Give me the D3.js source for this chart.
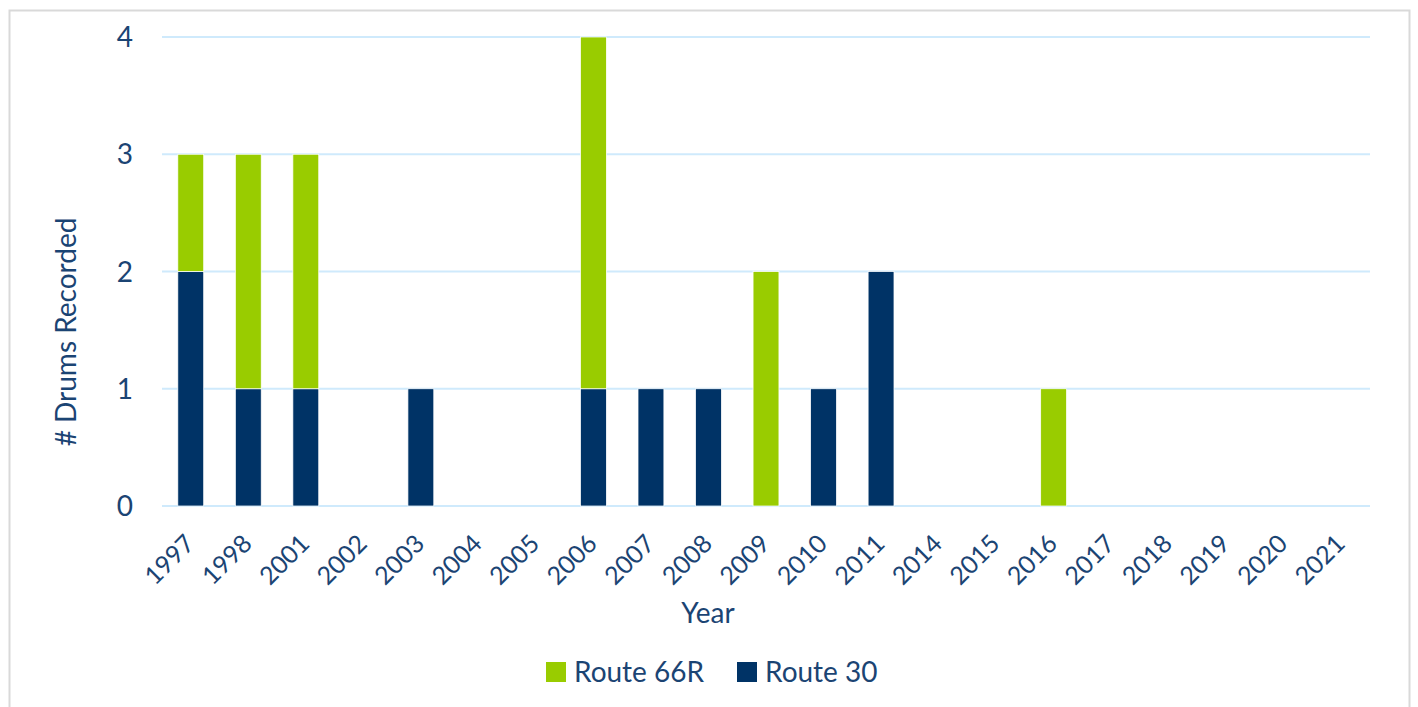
<!DOCTYPE html>
<html><head><meta charset="utf-8">
<script src="https://cdn.jsdelivr.net/npm/d3@7"></script>
<style>body{margin:0;background:#fff;}svg{display:block;}</style>
</head><body>
<script>
const years = ["1997","1998","2001","2002","2003","2004","2005","2006","2007","2008","2009","2010","2011","2014","2015","2016","2017","2018","2019","2020","2021"];
const route30 = [2,1,1,0,1,0,0,1,1,1,0,1,2,0,0,0,0,0,0,0,0];
const route66R = [1,2,2,0,0,0,0,3,0,0,2,0,0,0,0,1,0,0,0,0,0];
const yTicks = [0,1,2,3,4];
const seriesNames = ["Route 66R","Route 30"];
const colors = {"Route 66R":"#99cc00","Route 30":"#003366"};
const textColor = "#1b4473";
const font = "Lato, 'Open Sans', sans-serif";

const W = 1418, H = 707;
const svg = d3.select("body").append("svg").attr("width", W).attr("height", H);
svg.append("rect").attr("x",9.5).attr("y",10.5).attr("width",1400).attr("height",720)
  .attr("fill","#fff").attr("stroke","#d9d9d9").attr("stroke-width",2);

const pLeft = 162, pRight = 1370, pTop = 37, pBottom = 506;
const x = d3.scaleBand().domain(years).range([pLeft,pRight]).paddingInner(0.55).paddingOuter(0.275);
const y = d3.scaleLinear().domain([0,4]).range([pBottom, pTop]);

// grid
svg.append("g").selectAll("line").data(yTicks).join("line")
  .attr("x1",pLeft).attr("x2",pRight)
  .attr("y1",d=>y(d)).attr("y2",d=>y(d))
  .attr("stroke","#cfeafc").attr("stroke-width",2);

// y labels
svg.append("g").selectAll("text").data(yTicks).join("text")
  .attr("x",133).attr("y",d=>y(d)).attr("dy","0.36em")
  .attr("text-anchor","end").attr("fill",textColor)
  .style("font-family",font).style("font-size","28px").text(d=>d);

// stacked bars
const rows = years.map((yr,i)=>({year:yr,"Route 30":route30[i],"Route 66R":route66R[i]}));
const stack = d3.stack().keys(["Route 30","Route 66R"])(rows);
svg.append("g").selectAll("g").data(stack).join("g")
  .attr("fill",d=>colors[d.key])
  .selectAll("rect").data(d=>d.filter(s=>s[1]-s[0]>0)).join("rect")
  .attr("x",d=>x(d.data.year)).attr("width",x.bandwidth())
  .attr("y",d=>y(d[1])).attr("height",d=>y(d[0])-y(d[1]))
  .attr("stroke","#fff").attr("stroke-width",0.75);

// x labels
svg.append("g").selectAll("text").data(years).join("text")
  .attr("transform",d=>`translate(${x(d)+x.bandwidth()/2-1},${539}) rotate(-45)`)
  .attr("text-anchor","end").attr("dy","0.35em").attr("fill",textColor)
  .style("font-family",font).style("font-size","25px").text(d=>d);

// axis titles
svg.append("text").attr("x",708).attr("y",623).attr("text-anchor","middle")
  .attr("fill",textColor).style("font-family",font).style("font-size","28px").text("Year");
svg.append("text").attr("transform","translate(76,332) rotate(-90)").attr("text-anchor","middle")
  .attr("fill",textColor).style("font-family",font).style("font-size","28px").text("# Drums Recorded");

// legend
const legendX = [546, 737];
const lg = svg.append("g").selectAll("g").data(seriesNames).join("g")
  .attr("transform",(d,i)=>`translate(${legendX[i]},662)`);
lg.append("rect").attr("width",20).attr("height",20).attr("fill",d=>colors[d]);
lg.append("text").attr("x",28).attr("y",10).attr("dy","0.36em").attr("fill",textColor)
  .style("font-family",font).style("font-size","28px").text(d=>d);
</script>
</body></html>
